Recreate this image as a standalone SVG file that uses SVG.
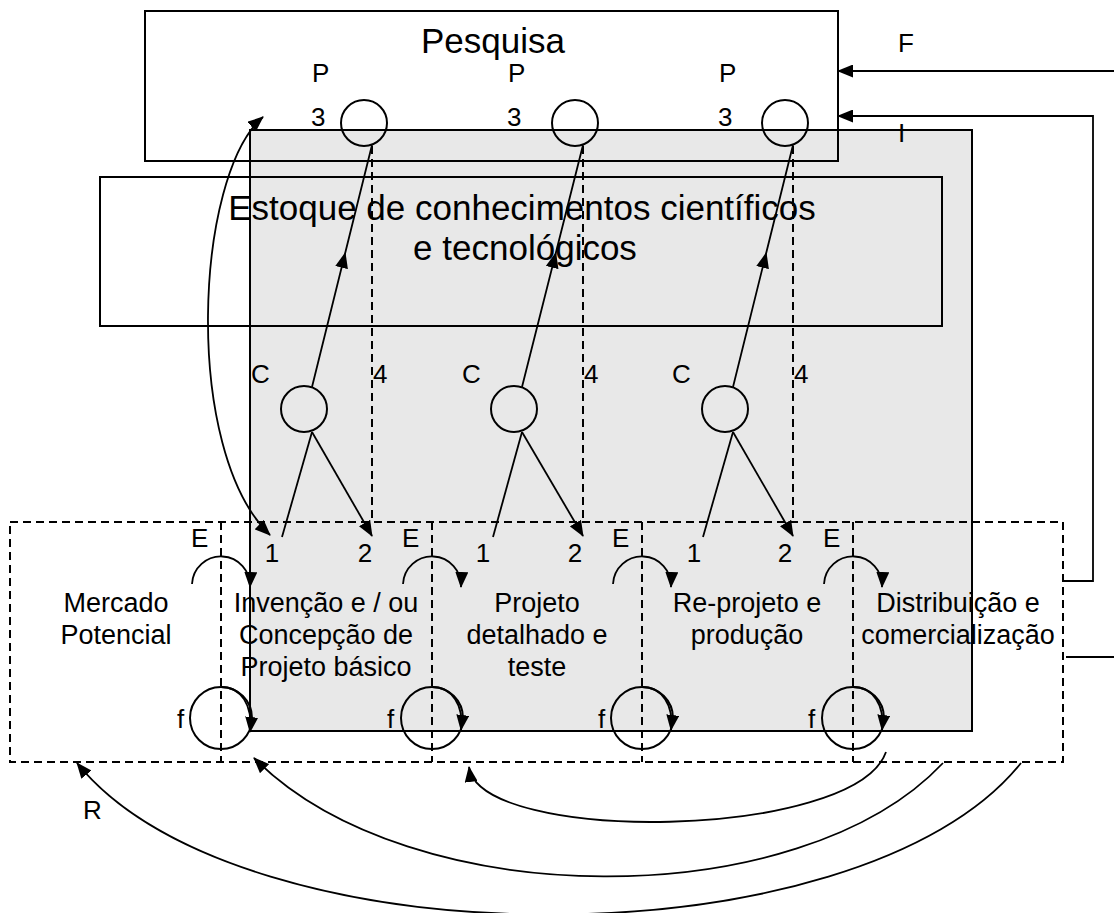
<svg xmlns="http://www.w3.org/2000/svg" width="1114" height="913" viewBox="0 0 1114 913">
  <style>
    text { font-family: "Liberation Sans", Arial, sans-serif; fill: #000; }
    .lbl { font-size: 26px; }
    .col { font-size: 27px; text-anchor: middle; }
    .box { fill: none; stroke: #000; stroke-width: 2; }
    .ln { fill: none; stroke: #000; stroke-width: 1.8; }
    .dash { fill: none; stroke: #000; stroke-width: 2; stroke-dasharray: 8 5; }
    .ring { fill: none; stroke: #000; stroke-width: 2; }
    .arr { marker-end: url(#ah); }
  </style>
  <defs>
    <marker id="ah" viewBox="0 0 16 13" refX="15" refY="6.5" markerWidth="16" markerHeight="13" markerUnits="userSpaceOnUse" orient="auto-start-reverse">
      <path d="M0,0 L16,6.5 L0,13 Z" fill="#000"/>
    </marker>
  </defs>

  <rect width="1114" height="913" fill="#fff"/>

  <!-- shaded development area -->
  <g id="development-area">
    <rect x="250" y="130" width="722" height="601" fill="#e8e8e8" stroke="#000" stroke-width="2"/>
  </g>

  <!-- research block -->
  <g id="pesquisa">
    <rect class="box" x="145" y="11" width="693" height="150"/>
    <text x="493" y="53" font-size="35" text-anchor="middle">Pesquisa</text>
    <text class="lbl" x="312" y="82">P</text>
    <text class="lbl" x="311" y="126">3</text>
    <circle class="ring" cx="364" cy="123" r="23"/>
    <text class="lbl" x="508" y="82">P</text>
    <text class="lbl" x="507" y="126">3</text>
    <circle class="ring" cx="575" cy="123" r="23"/>
    <text class="lbl" x="719" y="82">P</text>
    <text class="lbl" x="718" y="126">3</text>
    <circle class="ring" cx="785" cy="123" r="23"/>
  </g>

  <!-- knowledge stock -->
  <g id="estoque">
    <rect class="box" x="100" y="177" width="842" height="149"/>
    <text x="522" y="220" font-size="35" text-anchor="middle">Estoque de conhecimentos científicos</text>
    <text x="525" y="260" font-size="35" text-anchor="middle">e tecnológicos</text>
  </g>

  <!-- C nodes -->
  <g id="c-node-1">
    <circle class="ring" cx="304" cy="409" r="23"/>
    <text class="lbl" x="251" y="383">C</text>
  </g>
  <g id="c-node-2">
    <circle class="ring" cx="514" cy="409" r="23"/>
    <text class="lbl" x="462" y="383">C</text>
  </g>
  <g id="c-node-3">
    <circle class="ring" cx="725" cy="409" r="23"/>
    <text class="lbl" x="672" y="383">C</text>
  </g>

  <!-- chain-link stages -->
  <g id="stages">
    <rect class="dash" x="10" y="522" width="1053" height="240"/>
    <line class="dash" x1="221" y1="522" x2="221" y2="762"/>
    <line class="dash" x1="432" y1="522" x2="432" y2="762"/>
    <line class="dash" x1="642" y1="522" x2="642" y2="762"/>
    <line class="dash" x1="853" y1="522" x2="853" y2="762"/>
  </g>
  <g id="stage-mercado">
    <text class="col" x="116" y="612">Mercado</text>
    <text class="col" x="116" y="644">Potencial</text>
  </g>
  <g id="stage-invencao">
    <text class="col" x="326" y="612">Invenção e / ou</text>
    <text class="col" x="326" y="644">Concepção de</text>
    <text class="col" x="326" y="676">Projeto básico</text>
  </g>
  <g id="stage-projeto">
    <text class="col" x="537" y="612">Projeto</text>
    <text class="col" x="537" y="644">detalhado e</text>
    <text class="col" x="537" y="676">teste</text>
  </g>
  <g id="stage-reprojeto">
    <text class="col" x="747" y="612">Re-projeto e</text>
    <text class="col" x="747" y="644">produção</text>
  </g>
  <g id="stage-distribuicao">
    <text class="col" x="958" y="612">Distribuição e</text>
    <text class="col" x="958" y="644">comercialização</text>
  </g>

  <!-- connectors -->
  <g id="connectors">
    <!-- 4: dashed links from research down to the stages -->
    <line class="dash" x1="372" y1="146" x2="372" y2="522"/>
    <line class="dash" x1="583" y1="146" x2="583" y2="522"/>
    <line class="dash" x1="793" y1="146" x2="793" y2="522"/>
    <text class="lbl" x="373" y="383">4</text>
    <text class="lbl" x="584" y="383">4</text>
    <text class="lbl" x="794" y="383">4</text>

    <!-- C to research, arrow mid-way -->
    <path class="ln" d="M312,387 L345.2,253 L372,145" marker-mid="url(#ah)"/>
    <path class="ln" d="M522,387 L555.8,253 L583,145" marker-mid="url(#ah)"/>
    <path class="ln" d="M733,387 L766.2,253 L793,145" marker-mid="url(#ah)"/>

    <!-- C down to 1 and 2 -->
    <line class="ln" x1="312" y1="432" x2="282" y2="537"/>
    <line class="ln arr" x1="312" y1="432" x2="372" y2="536"/>
    <line class="ln" x1="522" y1="432" x2="493" y2="537"/>
    <line class="ln arr" x1="522" y1="432" x2="583" y2="536"/>
    <line class="ln" x1="733" y1="432" x2="703" y2="537"/>
    <line class="ln arr" x1="733" y1="432" x2="793" y2="536"/>
    <g class="lbl" text-anchor="middle">
      <text x="272" y="562">1</text>
      <text x="365" y="562">2</text>
      <text x="483" y="562">1</text>
      <text x="575" y="562">2</text>
      <text x="694" y="562">1</text>
      <text x="785" y="562">2</text>
    </g>

    <!-- E: forward links between stages -->
    <path class="ln arr" d="M192,584 A29,29 0 0 1 250,587"/>
    <path class="ln arr" d="M403,584 A29,29 0 0 1 461,587"/>
    <path class="ln arr" d="M613,584 A29,29 0 0 1 671,587"/>
    <path class="ln arr" d="M824,584 A29,29 0 0 1 882,587"/>
    <text class="lbl" x="191" y="547">E</text>
    <text class="lbl" x="402" y="547">E</text>
    <text class="lbl" x="612" y="547">E</text>
    <text class="lbl" x="823" y="547">E</text>

    <!-- f: feedback loops -->
    <circle class="ring" cx="221" cy="718" r="31"/>
    <circle class="ring" cx="432" cy="718" r="31"/>
    <circle class="ring" cx="642" cy="718" r="31"/>
    <circle class="ring" cx="853" cy="718" r="31"/>
    <path class="ln arr" d="M221,687 C241,687 253,705 250,732"/>
    <path class="ln arr" d="M432,687 C452,687 464,705 461,730"/>
    <path class="ln arr" d="M642,687 C662,687 674,705 671,730"/>
    <path class="ln arr" d="M853,687 C873,687 885,705 882,730"/>
    <text class="lbl" x="177" y="728">f</text>
    <text class="lbl" x="387" y="728">f</text>
    <text class="lbl" x="598" y="728">f</text>
    <text class="lbl" x="808" y="728">f</text>

    <!-- R: long feedback arcs -->
    <path class="ln arr" d="M886,752 C855,840 480,845 469,767"/>
    <path class="ln arr" d="M943,763 C800,915 410,915 254,758"/>
    <path class="ln arr" d="M1021,763 C860,965 240,965 77,763"/>
    <text class="lbl" x="83" y="819">R</text>

    <!-- two-way link between invention and research -->
    <path class="ln" d="M263,117 C195,175 182,450 270,535" marker-start="url(#ah)" marker-end="url(#ah)"/>

    <!-- F and I inputs to research -->
    <line class="ln arr" x1="1114" y1="71" x2="838" y2="71"/>
    <polyline class="ln arr" points="1063,581 1093,581 1093,116 838,116"/>
    <line class="ln" x1="1066" y1="657" x2="1114" y2="657"/>
    <text class="lbl" x="898" y="52">F</text>
    <text class="lbl" x="898" y="142">I</text>
  </g>
</svg>
